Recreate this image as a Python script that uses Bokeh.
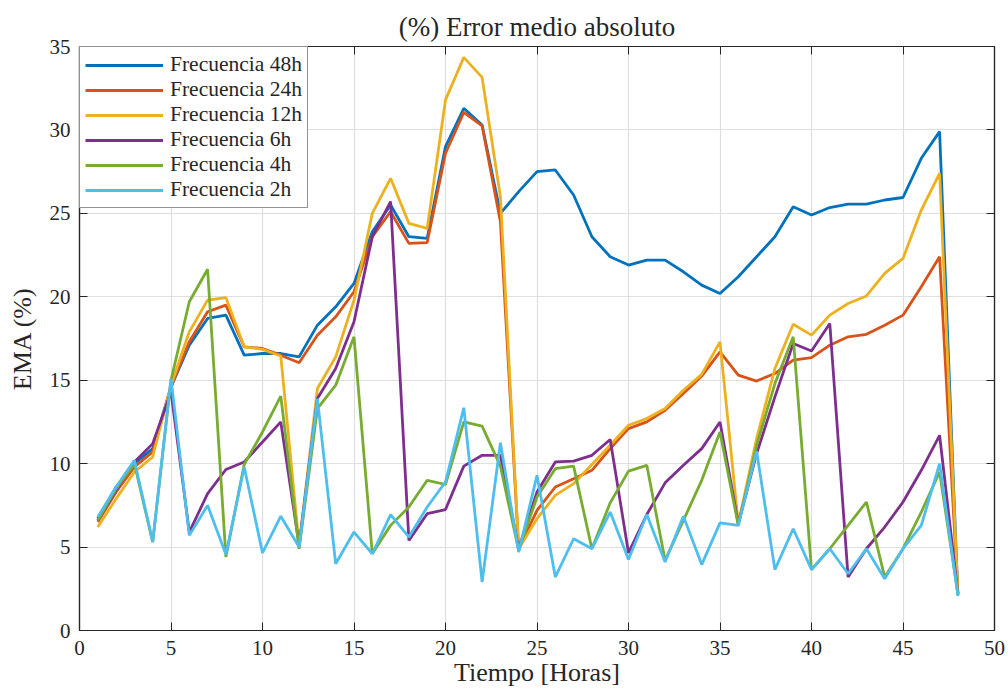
from bokeh.plotting import figure
from bokeh.models import LinearAxis, Range1d, Legend, LegendItem, FixedTicker
from bokeh.embed import file_html
from bokeh.resources import INLINE

hours = list(range(1, 49))

f48 = [6.7, 8.6, 10.0, 10.9, 14.6, 17.1, 18.7, 18.9, 16.5, 16.6, 16.6, 16.4,
       18.3, 19.4, 20.8, 23.9, 25.5, 23.6, 23.5, 29.0, 31.3, 30.3, 25.0, 26.3,
       27.5, 27.6, 26.1, 23.6, 22.4, 21.9, 22.2, 22.2, 21.5, 20.7, 20.2, 21.2,
       22.4, 23.6, 25.4, 24.9, 25.35, 25.55, 25.55, 25.8, 25.95, 28.3, 29.9, 2.1]
f24 = [6.5, 8.3, 9.8, 10.7, 14.6, 17.3, 19.1, 19.5, 17.0, 16.9, 16.5, 16.05,
       17.7, 18.8, 20.3, 23.6, 25.1, 23.2, 23.25, 28.6, 31.05, 30.25, 24.5, 4.9,
       7.2, 8.6, 9.1, 9.6, 10.9, 12.1, 12.5, 13.2, 14.2, 15.25, 16.7, 15.3,
       14.95, 15.4, 16.2, 16.35, 17.1, 17.6, 17.75, 18.3, 18.9, 20.6, 22.4, 2.2]
f12 = [6.2, 7.9, 9.5, 10.4, 14.7, 17.9, 19.8, 19.95, 17.0, 16.85, 16.45, 5.1,
       14.5, 16.4, 19.8, 25.0, 27.1, 24.4, 24.1, 31.8, 34.35, 33.15, 26.0, 4.9,
       6.7, 8.1, 8.8, 9.95, 11.1, 12.3, 12.7, 13.3, 14.4, 15.35, 17.3, 6.4,
       11.5, 15.7, 18.35, 17.7, 18.9, 19.6, 20.05, 21.4, 22.3, 25.2, 27.4, 2.2]
f6 = [6.6, 8.4, 10.1, 11.2, 14.3, 5.9, 8.2, 9.65, 10.1, 11.3, 12.5, 5.1,
      13.9, 15.7, 18.5, 23.6, 25.7, 5.4, 7.0, 7.25, 9.85, 10.5, 10.5, 4.9,
      8.3, 10.1, 10.15, 10.5, 11.45, 4.65, 6.95, 8.85, 9.9, 10.9, 12.5, 6.4,
      10.6, 14.0, 17.2, 16.75, 18.4, 3.2, 4.9, 6.2, 7.7, 9.6, 11.7, 2.2]
f4 = [6.6, 8.5, 10.0, 5.3, 15.0, 19.7, 21.65, 4.4, 9.95, 11.9, 14.05, 4.9,
      13.3, 14.7, 17.6, 4.6, 6.3, 7.4, 9.0, 8.75, 12.5, 12.25, 9.85, 4.8,
      8.0, 9.7, 9.85, 4.9, 7.65, 9.55, 9.9, 4.2, 6.6, 9.0, 11.9, 6.3,
      11.1, 14.8, 17.6, 3.65, 4.9, 6.3, 7.7, 3.2, 4.9, 7.1, 9.5, 2.2]
f2 = [6.8, 8.6, 10.2, 5.3, 15.1, 5.7, 7.5, 4.55, 9.8, 4.65, 6.85, 5.0,
      13.9, 4.0, 5.9, 4.6, 6.95, 5.6, 7.4, 8.9, 13.35, 2.9, 11.25, 4.7,
      9.3, 3.2, 5.5, 4.9, 7.1, 4.25, 6.95, 4.1, 6.85, 3.95, 6.45, 6.3,
      10.75, 3.65, 6.1, 3.65, 4.9, 3.4, 4.9, 3.1, 4.9, 6.3, 10.0, 2.1]

labels = ["Frecuencia 48h", "Frecuencia 24h", "Frecuencia 12h",
          "Frecuencia 6h", "Frecuencia 4h", "Frecuencia 2h"]
series = [f48, f24, f12, f6, f4, f2]
colors = ["#0072BD", "#D95319", "#EDB120", "#7E2F8E", "#77AC30", "#4DBEEE"]

x_ticks = [0, 5, 10, 15, 20, 25, 30, 35, 40, 45, 50]
y_ticks = [0, 5, 10, 15, 20, 25, 30, 35]

FONT = "Liberation Serif"
INK = "#262626"

p = figure(width=1008, height=694, output_backend="svg", toolbar_location=None,
           x_range=Range1d(0, 50), y_range=Range1d(0, 35),
           min_border_left=79, min_border_right=14, min_border_top=46,
           min_border_bottom=64, title="(%) Error medio absoluto")

p.title.text_font = FONT
p.title.text_font_size = "27px"
p.title.text_font_style = "normal"
p.title.align = "center"
p.title.text_color = INK
p.title.standoff = 9

items = []
for lab, ys, c in zip(labels, series, colors):
    r = p.line(hours, ys, line_color=c, line_width=2.8)
    items.append(LegendItem(label=lab, renderers=[r]))

def style_axis(ax, ticks, show_labels=True):
    ax.ticker = FixedTicker(ticks=ticks)
    ax.major_tick_in = 8
    ax.major_tick_out = 0
    ax.minor_tick_line_color = None
    ax.axis_line_color = INK
    ax.major_tick_line_color = INK
    ax.axis_line_width = 1.2
    ax.major_label_text_font = FONT
    ax.major_label_text_font_size = "21px" if show_labels else "0px"
    ax.major_label_text_color = INK
    ax.axis_label_text_font = FONT
    ax.axis_label_text_font_style = "normal"
    ax.axis_label_text_color = INK
    if not show_labels:
        ax.major_label_standoff = 0

style_axis(p.xaxis[0], x_ticks)
style_axis(p.yaxis[0], y_ticks)
p.xaxis[0].axis_label = "Tiempo [Horas]"
p.xaxis[0].axis_label_text_font_size = "26px"
p.xaxis[0].axis_label_standoff = 0
p.xaxis[0].major_label_standoff = 10
p.yaxis[0].axis_label = "EMA (%)"
p.yaxis[0].axis_label_text_font_size = "26px"
p.yaxis[0].axis_label_standoff = 10
p.yaxis[0].major_label_standoff = 9

top = LinearAxis()
style_axis(top, x_ticks, show_labels=False)
p.add_layout(top, "above")
right = LinearAxis()
style_axis(right, y_ticks, show_labels=False)
p.add_layout(right, "right")

p.xgrid.ticker = FixedTicker(ticks=x_ticks)
p.ygrid.ticker = FixedTicker(ticks=y_ticks)
p.grid.grid_line_color = "#dfdfdf"
p.grid.grid_line_width = 1.2
p.outline_line_color = INK
p.outline_line_width = 1.2

legend = Legend(items=items, location="top_left")
legend.label_text_font = FONT
legend.label_text_font_size = "21.5px"
legend.label_text_color = INK
legend.glyph_width = 78
legend.glyph_height = 20
legend.label_height = 20
legend.spacing = 0
legend.padding = 5
legend.margin = 0
legend.label_standoff = 7
legend.border_line_color = INK
legend.border_line_width = 1.2
legend.background_fill_alpha = 1
p.add_layout(legend)

open("out.html", "w").write(file_html(p, INLINE))
